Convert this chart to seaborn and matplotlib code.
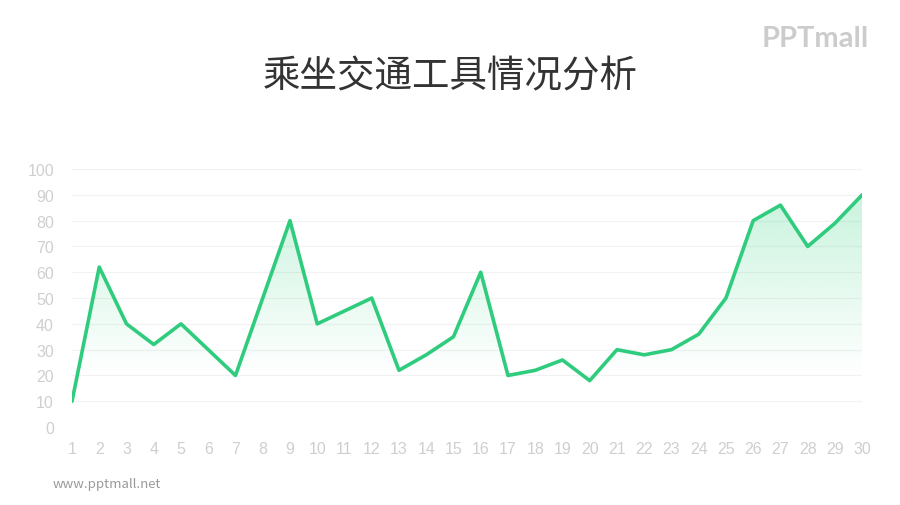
import numpy as np
import pandas as pd
import matplotlib
matplotlib.use("Agg")
import matplotlib.pyplot as plt
import seaborn as sns
from matplotlib.path import Path
from matplotlib.patches import PathPatch

days = list(range(1, 31))
values = [10, 62, 40, 32, 40, 30, 20, 50, 80, 40,
          45, 50, 22, 28, 35, 60, 20, 22, 26, 18,
          30, 28, 30, 36, 50, 80, 86, 70, 79, 90]
y_ticks = [0, 10, 20, 30, 40, 50, 60, 70, 80, 90, 100]
title = "乘坐交通工具情况分析"

df = pd.DataFrame({"day": days, "value": values})

sns.set_theme(style="white")
plt.rcParams['font.family'] = ['Noto Sans CJK SC', 'DejaVu Sans']

line_color = "#2fcc7e"

fig = plt.figure(figsize=(9, 5.06), dpi=100)
ax = fig.add_axes([0.08, 0.154, 0.878, 0.51])

sns.lineplot(data=df, x="day", y="value", ax=ax, color=line_color, linewidth=2.6, zorder=3)

# gradient fill under the line
verts = np.vstack([np.column_stack([df["day"], df["value"]]),
                   [[days[-1], 0], [days[0], 0]]])
path = Path(verts)
grad = np.linspace(0, 1, 256).reshape(-1, 1)
rgba = np.zeros((256, 1, 4))
c = matplotlib.colors.to_rgb("#3fd688")
rgba[..., 0] = c[0]; rgba[..., 1] = c[1]; rgba[..., 2] = c[2]
alpha = np.clip((grad[:, 0] * 100 - 20) / 70, 0, 1) * 0.28
rgba[:, 0, 3] = alpha
im = ax.imshow(rgba, extent=[days[0], days[-1], 0, 100], origin="lower",
               aspect="auto", zorder=2, interpolation="bilinear")
patch = PathPatch(path, facecolor="none", edgecolor="none")
ax.add_patch(patch)
im.set_clip_path(patch)

ax.set_xlim(days[0], days[-1])
ax.set_ylim(0, 100)
ax.set_xticks(days)
ax.set_xticklabels([str(d) for d in days])
ax.set_yticks(y_ticks)
ax.set_yticklabels([str(t) for t in y_ticks])
ax.set_xlabel("")
ax.set_ylabel("")
ax.grid(axis="y", color="#f2f2f2", linewidth=0.9, zorder=0)
ax.set_axisbelow(True)
for s in ax.spines.values():
    s.set_visible(False)
ax.tick_params(axis="both", colors="#d4d4d4", labelsize=11.5, length=0)
ax.tick_params(axis="y", pad=13)
ax.tick_params(axis="x", pad=10)
for lab in ax.get_xticklabels() + ax.get_yticklabels():
    lab.set_color("#cfcfcf")
    lab.set_family(["Liberation Sans", "DejaVu Sans"])

fig.text(0.5, 0.848, title, ha="center", va="center", fontsize=27, color="#333333")
fig.text(0.058, 0.043, "www.pptmall.net", ha="left", va="center", fontsize=9.5, color="#9a9a9a")
fig.text(0.965, 0.922, "PPTmall", ha="right", va="center", fontsize=21, color="#cccccc",
         fontweight="bold", family=["Lato", "DejaVu Sans"])

fig.savefig("out.png", dpi=100, facecolor="white")
